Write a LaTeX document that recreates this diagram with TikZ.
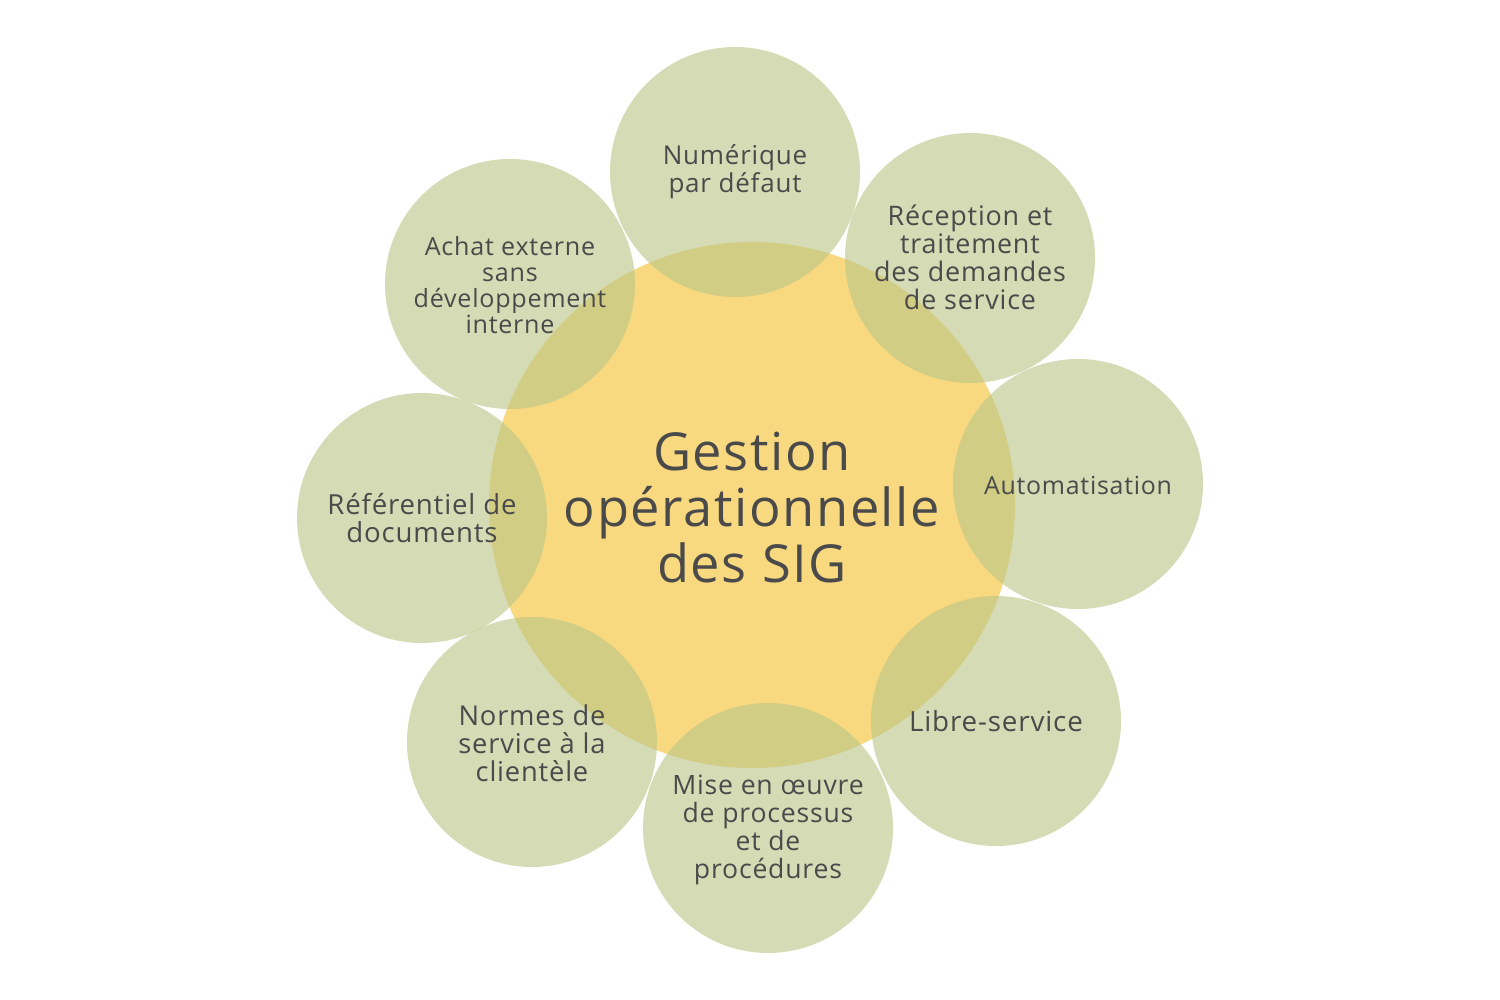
\documentclass[tikz,border=0pt]{standalone}
\usepackage{fontspec}
\setmainfont[LetterSpace=3]{Open Sans}
\definecolor{sun}{RGB}{248,217,128}
\definecolor{sage}{RGB}{187,198,135}
\definecolor{ink}{RGB}{74,74,74}
\newcommand{\fs}[2]{\fontsize{#1}{#2}\selectfont}
\begin{document}
\begin{tikzpicture}[x=1pt,y=-1pt,
  hub/.style={circle,fill=sun,minimum size=526pt,inner sep=0pt},
  petal/.style={circle,fill=sage,fill opacity=0.62,minimum size=250pt,inner sep=0pt},
  lbl/.style={text=ink,align=center}]
\useasboundingbox (0,0) rectangle (1500,1000);
\node[hub] (hub) at (752,505) {};
\node[petal] (p1) at (735,172) {};
\node[petal] (p2) at (970,258) {};
\node[petal] (p3) at (1078,484) {};
\node[petal] (p4) at (996,721) {};
\node[petal] (p5) at (768,828) {};
\node[petal] (p6) at (532,742) {};
\node[petal] (p7) at (422,518) {};
\node[petal] (p8) at (510,284) {};
\node[lbl,font=\fs{52.4}{56}] (th) at (752,508) {Gestion\\opérationnelle\\des SIG};
\node[lbl,font=\fs{26}{28}] (t1) at (735,172) {Numérique\\par défaut};
\node[lbl,font=\fs{26.9}{28}] (t2) at (970,257) {Réception et\\traitement\\des demandes\\de service};
\node[lbl,font=\fs{24.9}{28}] (t3) at (1078,485) {Automatisation};
\node[lbl,font=\fs{27.8}{28}] (t4) at (996,721) {Libre-service};
\node[lbl,font=\fs{26.6}{28}] (t5) at (768,830) {Mise en œuvre\\de processus\\et de\\procédures};
\node[lbl,font=\fs{27.3}{28}] (t6) at (532,743) {Normes de\\service à la\\clientèle};
\node[lbl,font=\fs{27.6}{28}] (t7) at (422,518) {Référentiel de\\documents};
\node[lbl,font=\fs{25.1}{26}] (t8) at (510,285) {Achat externe\\sans\\développement\\interne};
\end{tikzpicture}
\end{document}
